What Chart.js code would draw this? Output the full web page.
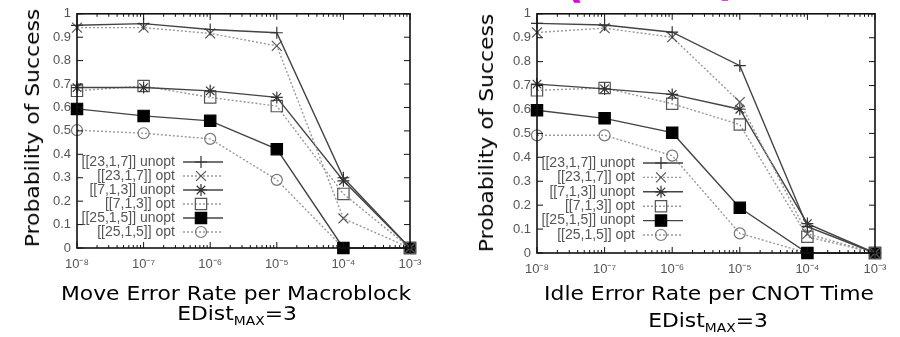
<!DOCTYPE html>
<html>
<head>
<meta charset="utf-8">
<script src="https://cdn.jsdelivr.net/npm/chart.js@4.4.1/dist/chart.umd.min.js"></script>
<style>
body{margin:0;background:#fff;width:900px;height:337px;overflow:hidden;position:relative;font-family:"DejaVu Sans",sans-serif}
.box{position:absolute;top:0;width:450px;height:337px}
.ttl{position:absolute;font-size:19px;color:#000;white-space:nowrap;transform:translate(-50%,-50%) scaleX(1.15)}
.ytl{position:absolute;font-size:19px;color:#000;white-space:nowrap;transform:translate(-50%,-50%) rotate(-90deg) scaleX(1.15)}
.ttl sub{font-size:12px;vertical-align:-5px}
.mag{position:absolute;color:#e000e0;font-size:44px;font-weight:bold;line-height:1}
</style>
</head>
<body>
<div class="box" style="left:0"><canvas id="moveChart" width="450" height="337"></canvas></div>
<div class="box" style="left:450px"><canvas id="idleChart" width="450" height="337"></canvas></div>

<div class="ytl" style="left:32px;top:128px">Probability of Success</div>
<div class="ttl" style="left:236px;top:293px">Move Error Rate per Macroblock</div>
<div class="ttl" style="left:237px;top:315px">EDist<sub>MAX</sub>=3</div>

<div class="ytl" style="left:486px;top:133px">Probability of Success</div>
<div class="ttl" style="left:709px;top:293px">Idle Error Rate per CNOT Time</div>
<div class="ttl" style="left:708px;top:322px">EDist<sub>MAX</sub>=3</div>

<div class="mag" style="left:564px;top:-40px">(</div>
<div class="mag" style="left:718px;top:-42px">)</div>

<script>
// x values and labels
const xValues=[1e-8,1e-7,1e-6,1e-5,1e-4,1e-3];
const xTickLabels=['10⁻⁸','10⁻⁷','10⁻⁶','10⁻⁵','10⁻⁴','10⁻³'];
const yTicks=[0,0.1,0.2,0.3,0.4,0.5,0.6,0.7,0.8,0.9,1];
const yTickLabels=['0','0.1','0.2','0.3','0.4','0.5','0.6','0.7','0.8','0.9','1'];
const seriesNames=['[[23,1,7]] unopt','[[23,1,7]] opt','[[7,1,3]] unopt','[[7,1,3]] opt','[[25,1,5]] unopt','[[25,1,5]] opt'];

// left: move error
const move23unopt=[0.951,0.958,0.933,0.919,0.30,0];
const move23opt=[0.941,0.941,0.916,0.863,0.126,0];
const move7unopt=[0.685,0.685,0.671,0.643,0.287,0];
const move7opt=[0.671,0.692,0.643,0.606,0.231,0];
const move25unopt=[0.594,0.564,0.543,0.422,0,0];
const move25opt=[0.503,0.490,0.466,0.291,0,0];

// right: idle error
const idle23unopt=[0.960,0.953,0.923,0.783,0.11,0];
const idle23opt=[0.922,0.940,0.902,0.631,0.08,0];
const idle7unopt=[0.706,0.686,0.663,0.601,0.123,0];
const idle7opt=[0.680,0.690,0.624,0.537,0.068,0];
const idle25unopt=[0.597,0.563,0.503,0.189,0,0];
const idle25opt=[0.492,0.492,0.407,0.082,0,0];

// styles
const lineColors=['#444','#999','#444','#999','#444','#999'];
const dashes=[[],[2,2],[],[2,2],[],[2,2]];
const pointStyles=['cross','crossRot','star','rect','rect','circle'];
const pointSizes=[6,7,6,8,8,5.5];
const markerColors=['#333','#555','#333','#555','#000','#777'];
const markerFills=['transparent','transparent','transparent','transparent','#000','transparent'];

function drawMarker(ctx,style,x,y,r,fill,stroke){
  ctx.save();
  ctx.strokeStyle=stroke;ctx.fillStyle=fill;ctx.lineWidth=1.2;ctx.setLineDash([]);
  ctx.beginPath();
  const d=r*Math.SQRT1_2;
  if(style==='cross'||style==='star'){ctx.moveTo(x-r,y);ctx.lineTo(x+r,y);ctx.moveTo(x,y-r);ctx.lineTo(x,y+r);}
  if(style==='crossRot'||style==='star'){ctx.moveTo(x-d,y-d);ctx.lineTo(x+d,y+d);ctx.moveTo(x-d,y+d);ctx.lineTo(x+d,y-d);}
  if(style==='rect'){ctx.rect(x-d,y-d,2*d,2*d);if(fill!=='transparent')ctx.fill();}
  if(style==='circle'){ctx.arc(x,y,r,0,Math.PI*2);}
  ctx.stroke();
  ctx.restore();
}

const framePlugin={
  id:'frame',
  afterDatasetsDraw(chart,args,opts){
    const ctx=chart.ctx,a=chart.chartArea,xs=chart.scales.x,ys=chart.scales.y;
    ctx.save();
    ctx.strokeStyle='#111';ctx.lineWidth=1.6;
    ctx.strokeRect(a.left,a.top,a.right-a.left,a.bottom-a.top);
    ctx.lineWidth=1;
    ctx.beginPath();
    yTicks.forEach(v=>{
      const py=ys.getPixelForValue(v);
      ctx.moveTo(a.left,py);ctx.lineTo(a.left+6,py);
      ctx.moveTo(a.right,py);ctx.lineTo(a.right-6,py);
    });
    xValues.forEach((v,i)=>{
      const px=xs.getPixelForValue(v);
      ctx.moveTo(px,a.bottom);ctx.lineTo(px,a.bottom-6);
      ctx.moveTo(px,a.top);ctx.lineTo(px,a.top+6);
      if(i<xValues.length-1){
        for(let m=2;m<10;m++){
          const mx=xs.getPixelForValue(v*m);
          ctx.moveTo(mx,a.bottom);ctx.lineTo(mx,a.bottom-3);
          ctx.moveTo(mx,a.top);ctx.lineTo(mx,a.top+3);
        }
      }
    });
    ctx.stroke();
    // legend inside plot
    ctx.font='14px "Liberation Sans", Arial, sans-serif';
    ctx.fillStyle='#555';ctx.textAlign='right';ctx.textBaseline='middle';
    chart.data.datasets.forEach((ds,i)=>{
      const y=opts.y+i*opts.step;
      ctx.fillText(ds.label,opts.x,y);
      ctx.save();
      ctx.strokeStyle=ds.borderColor;ctx.lineWidth=ds.borderWidth;ctx.setLineDash(ds.borderDash);
      ctx.beginPath();ctx.moveTo(opts.x+8,y);ctx.lineTo(opts.x+48,y);ctx.stroke();
      ctx.restore();
      drawMarker(ctx,ds.pointStyle,opts.x+26,y,ds.pointRadius,ds.pointBackgroundColor,ds.pointBorderColor);
    });
    ctx.restore();
  }
};

function makeSets(vals){
  return vals.map((v,i)=>({
    label:seriesNames[i],
    data:xValues.map((x,j)=>({x:x,y:v[j]})),
    borderColor:lineColors[i],borderDash:dashes[i],borderWidth:1.4,
    pointStyle:pointStyles[i],pointRadius:pointSizes[i],
    pointBorderColor:markerColors[i],pointBackgroundColor:markerFills[i],pointBorderWidth:1.2,
    tension:0,clip:false
  }));
}

function makeChart(id,vals,L){
  return new Chart(document.getElementById(id),{
    type:'line',
    data:{datasets:makeSets(vals)},
    options:{
      responsive:false,animation:false,events:[],
      layout:{padding:L.pad},
      plugins:{legend:{display:false},tooltip:{enabled:false},frame:L.legend},
      scales:{
        x:{type:'logarithmic',min:1e-8,max:1e-3,
          afterBuildTicks:s=>{s.ticks=xValues.map(v=>({value:v}));},
          afterFit:s=>{s.height=L.xh;},
          ticks:{callback:(v,i)=>xTickLabels[i],color:'#555',font:{family:'Liberation Sans',size:13},padding:9,maxRotation:0,autoSkip:false},
          grid:{display:false,drawTicks:false},border:{display:false}},
        y:{type:'linear',min:0,max:1,
          afterBuildTicks:s=>{s.ticks=yTicks.map(v=>({value:v}));},
          afterFit:s=>{s.width=L.yw;},
          ticks:{callback:(v,i)=>yTickLabels[i],color:'#555',font:{family:'Liberation Sans',size:13},padding:6},
          grid:{display:false,drawTicks:false},border:{display:false}}
      }
    },
    plugins:[framePlugin]
  });
}

makeChart('moveChart',[move23unopt,move23opt,move7unopt,move7opt,move25unopt,move25opt],
  {pad:{left:0,top:10,right:40,bottom:0},xh:89,yw:77,legend:{x:175,y:162,step:14}});
makeChart('idleChart',[idle23unopt,idle23opt,idle7unopt,idle7opt,idle25unopt,idle25opt],
  {pad:{left:0,top:9,right:25,bottom:0},xh:84,yw:87,legend:{x:185,y:163,step:14.4}});
</script>
</body>
</html>
